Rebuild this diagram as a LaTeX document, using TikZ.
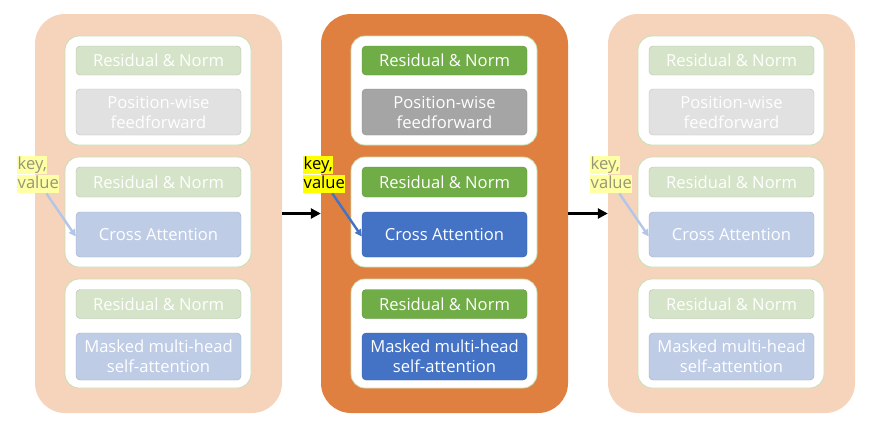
\documentclass[tikz,border=0pt]{standalone}
\usepackage{fontspec}
\setmainfont{Open Sans}
\usetikzlibrary{arrows.meta}
\definecolor{bigC}{RGB}{224,128,64}
\definecolor{bigF}{RGB}{246,212,188}
\definecolor{grnC}{RGB}{112,173,71}
\definecolor{grnF}{RGB}{213,228,200}
\definecolor{gryC}{RGB}{165,165,165}
\definecolor{gryF}{RGB}{225,225,225}
\definecolor{bluC}{RGB}{68,114,196}
\definecolor{bluF}{RGB}{191,204,230}
\definecolor{yelC}{RGB}{255,255,0}
\definecolor{yelF}{RGB}{255,255,165}
\definecolor{kvtC}{RGB}{0,0,0}
\definecolor{kvtF}{RGB}{150,150,120}
\definecolor{arrC}{RGB}{68,114,196}
\definecolor{arrF}{RGB}{180,198,231}
\definecolor{pnlline}{RGB}{197,224,180}
\tikzset{
  bigbox/.style={rounded corners=30pt, minimum width=247pt, minimum height=399pt, inner sep=0pt},
  panel/.style={fill=white, draw=pnlline, line width=0.8pt, rounded corners=14pt, minimum width=186pt, inner sep=0pt},
  layer/.style={rounded corners=4pt, minimum width=165pt, inner sep=0pt, text=white, font=\fontsize{16.6}{20}\selectfont, align=center, draw=#1!85!black, line width=0.4pt},
  kv/.style={inner sep=0.5pt, anchor=west, font=\fontsize{16.6}{20}\selectfont, text height=13pt, text depth=4.5pt},
  flow/.style={-{Triangle[length=10pt,width=10pt]}, line width=3.2pt, black},
}
\newcommand\drawblock[3]{%
  \begin{scope}[xshift=#1]
  \node[bigbox, fill=big#3] (#2big) at (158.5,213.5) {};
  \node[panel, minimum height=109pt] (#2p1) at (158,90.5) {};
  \node[panel, minimum height=110pt] (#2p2) at (158,212) {};
  \node[panel, minimum height=109pt] (#2p3) at (158,333.5) {};
  \node[layer=grn#3, fill=grn#3, minimum height=29pt] (#2rn1) at (158.5,60.5) {Residual \& Norm};
  \node[layer=gry#3, fill=gry#3, minimum height=46pt] (#2ff) at (158.5,112) {Position-wise\\feedforward};
  \node[layer=grn#3, fill=grn#3, minimum height=30pt] (#2rn2) at (158.5,182) {Residual \& Norm};
  \node[layer=blu#3, fill=blu#3, minimum height=45pt] (#2ca) at (158.5,234.5) {Cross Attention};
  \node[layer=grn#3, fill=grn#3, minimum height=29pt] (#2rn3) at (158.5,304) {Residual \& Norm};
  \node[layer=blu#3, fill=blu#3, minimum height=47pt] (#2mm) at (158.5,356.5) {Masked multi-head\\self-attention};
  \node[kv, fill=yel#3, text=kvt#3] (#2k) at (17,165) {key,};
  \node[kv, fill=yel#3, text=kvt#3] (#2v) at (17,184) {value};
  \draw[arr#3, line width=2.4pt, -{Triangle[length=7pt,width=7pt]}] ([xshift=8pt]#2v.south) -- ([yshift=-2pt]#2ca.west);
  \end{scope}}
\begin{document}
\begin{tikzpicture}[x=1pt,y=-1pt]
\useasboundingbox (0,0) rectangle (870,424);
\drawblock{0pt}{a}{F}
\drawblock{286pt}{b}{C}
\drawblock{573pt}{c}{F}
\draw[flow] (abig.east) -- (bbig.west);
\draw[flow] (bbig.east) -- (cbig.west);
\end{tikzpicture}
\end{document}
